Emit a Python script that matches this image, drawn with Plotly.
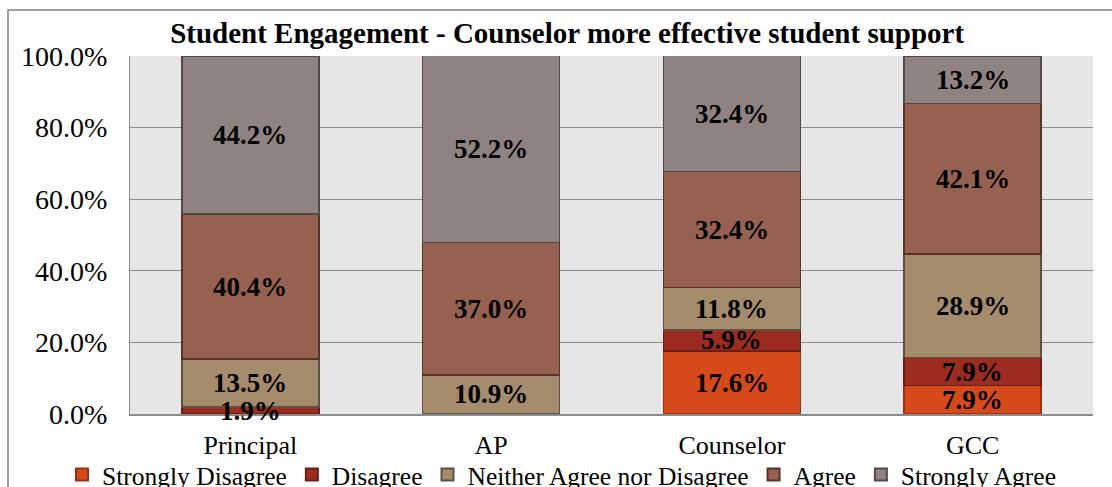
import plotly.graph_objects as go

categories = ["Principal", "AP", "Counselor", "GCC"]
series_names = ["Strongly Disagree", "Disagree", "Neither Agree nor Disagree", "Agree", "Strongly Agree"]
strongly_disagree = [0.0, 0.0, 17.6, 7.9]
disagree = [1.9, 0.0, 5.9, 7.9]
neither = [13.5, 10.9, 11.8, 28.9]
agree = [40.4, 37.0, 32.4, 42.1]
strongly_agree = [44.2, 52.2, 32.4, 13.2]
y_ticks = [0, 20, 40, 60, 80, 100]

values = [strongly_disagree, disagree, neither, agree, strongly_agree]
fills = ["#D5491A", "#9B2C1F", "#A48C6C", "#966151", "#8F8382"]
edges = ["#9A3210", "#6A1E14", "#5E5140", "#5A3328", "#524848"]

FONT = "Liberation Serif, Times New Roman, serif"
fig = go.Figure()
for name, vals, fc, ec in zip(series_names, values, fills, edges):
    fig.add_trace(go.Bar(
        x=categories, y=vals, name=name,
        marker=dict(color=fc, line=dict(color=ec, width=1.5)),
    ))

# data labels centred in each segment
for ci, cat in enumerate(categories):
    base = 0.0
    for vals in values:
        v = vals[ci]
        if v > 0:
            fig.add_annotation(x=cat, y=base + v / 2, text=f"<b>{v:.1f}%</b>",
                               showarrow=False, xref="x", yref="y",
                               font=dict(family=FONT, size=27, color="black"))
        base += v

fig.update_layout(
    barmode="stack", bargap=0.43,
    width=1112, height=487,
    margin=dict(l=130, r=19, t=56, b=73, autoexpand=False),
    paper_bgcolor="white", plot_bgcolor="#E6E6E6",
    font=dict(family=FONT, size=26, color="black"),
    title=dict(text="<b>Student Engagement - Counselor more effective student support</b>",
               x=0.51, xref="container", xanchor="center",
               y=1 - 33 / 487, yref="container", yanchor="middle",
               font=dict(family=FONT, size=29, color="black")),
    legend=dict(orientation="h", x=(62 - 130) / 963, xref="paper", xanchor="left",
                y=-(475 - 414) / 358, yref="paper", yanchor="middle",
                font=dict(family=FONT, size=25.5, color="black"), traceorder="normal",
                itemsizing="constant", itemwidth=30, tracegroupgap=0,
                bgcolor="rgba(0,0,0,0)"),
    showlegend=True,
)
fig.update_yaxes(range=[0, 100], tickvals=y_ticks,
                 ticktext=[f"{t:.1f}%" for t in y_ticks],
                 tickfont=dict(family=FONT, size=28, color="black"),
                 showgrid=True, gridcolor="#8C8C8C", gridwidth=1,
                 showline=True, linecolor="#8C8C8C", linewidth=1,
                 ticks="outside", ticklen=16, tickcolor="rgba(0,0,0,0)",
                 zeroline=False, automargin=False)
fig.update_xaxes(showline=True, linecolor="#8C8C8C", linewidth=1.5,
                 tickfont=dict(family=FONT, size=26, color="black"),
                 ticks="outside", ticklen=7, tickcolor="rgba(0,0,0,0)",
                 automargin=False)

# outer chart frame
fig.add_shape(type="rect", xref="paper", yref="paper",
              x0=(8 - 130) / 963, x1=1.2, y0=-0.5, y1=(414 - 10) / 358,
              line=dict(color="#808080", width=1.5), fillcolor="rgba(0,0,0,0)", layer="below")

fig.write_html("out.html", config={"displayModeBar": False},
               post_script="document.body.style.margin='0';document.body.style.overflow='hidden';")
